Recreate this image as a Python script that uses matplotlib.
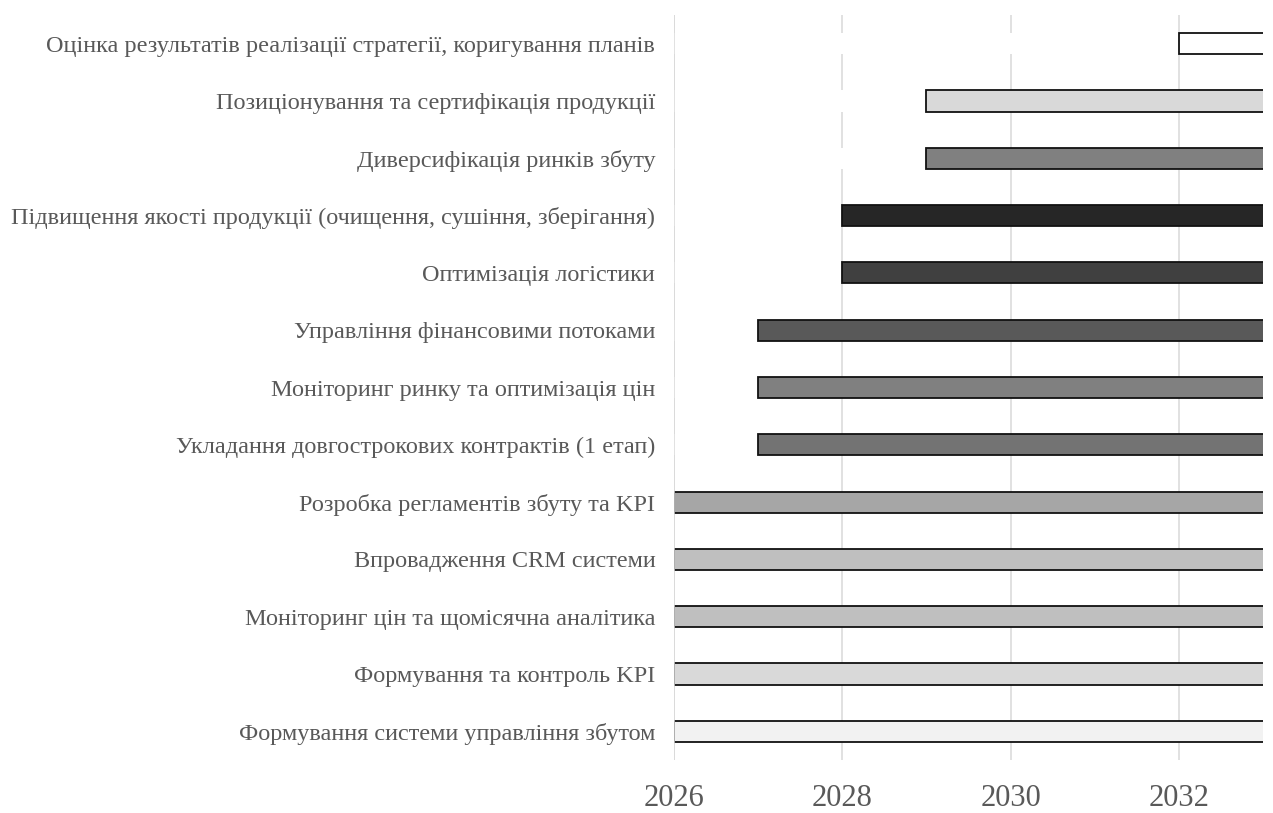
import matplotlib
matplotlib.use("Agg")
import matplotlib.pyplot as plt

# Strategy tasks, listed from top to bottom
tasks = [
    "Оцінка результатів реалізації стратегії, коригування планів",
    "Позиціонування та сертифікація продукції",
    "Диверсифікація ринків збуту",
    "Підвищення якості продукції (очищення, сушіння, зберігання)",
    "Оптимізація логістики",
    "Управління фінансовими потоками",
    "Моніторинг ринку та оптимізація цін",
    "Укладання довгострокових контрактів (1 етап)",
    "Розробка регламентів збуту та KPI",
    "Впровадження CRM системи",
    "Моніторинг цін та щомісячна аналітика",
    "Формування та контроль KPI",
    "Формування системи управління збутом",
]
start_year = [2032, 2029, 2029, 2028, 2028, 2027, 2027, 2027, 2026, 2026, 2026, 2026, 2026]
end_year = [2034, 2034, 2034, 2034, 2034, 2034, 2034, 2034, 2034, 2034, 2034, 2034, 2034]
bar_colors = ["#ffffff", "#d9d9d9", "#808080", "#262626", "#404040", "#595959",
              "#808080", "#737373", "#a6a6a6", "#bfbfbf", "#bfbfbf", "#d9d9d9", "#f2f2f2"]
year_ticks = [2026, 2028, 2030, 2032]

plt.rcParams["font.family"] = ["Liberation Serif", "DejaVu Serif"]
text_color = "#595959"

fig = plt.figure(figsize=(12.73, 8.13), dpi=100)
ax = fig.add_axes([674 / 1273, 1 - 760 / 813, (1263 - 674) / 1273, 745 / 813])

x_min, x_max = 2026, 2033
rows = list(range(len(tasks)))
bar_h = 0.37

# vertical year gridlines
for yr in year_ticks:
    ax.axvline(yr, color="#d9d9d9", linewidth=1.1, zorder=1)

# blank lead-in segment before each task starts (hides the gridlines)
lead = [s - x_min for s in start_year]
ax.barh(rows, lead, left=x_min, height=bar_h, color="white", edgecolor="none", zorder=2)

# task bars
durations = [e - s for s, e in zip(start_year, end_year)]
ax.barh(rows, durations, left=start_year, height=bar_h, color=bar_colors,
        edgecolor="#111111", linewidth=1.3, zorder=3)

ax.axvline(x_min, color="#d9d9d9", linewidth=1.1, zorder=4)

ax.set_xlim(x_min, x_max)
ax.set_ylim(len(tasks) - 0.5, -0.5)
ax.set_yticks(rows)
ax.set_yticklabels(tasks, fontsize=17.5, color=text_color)
ax.set_xticks(year_ticks)
ax.set_xticklabels([str(y) for y in year_ticks], fontsize=22, color=text_color)
ax.tick_params(axis="y", length=0, pad=13.5)
ax.tick_params(axis="x", length=0, pad=17.5)
for s in ax.spines.values():
    s.set_visible(False)

fig.savefig("out.png", dpi=100, facecolor="white")
